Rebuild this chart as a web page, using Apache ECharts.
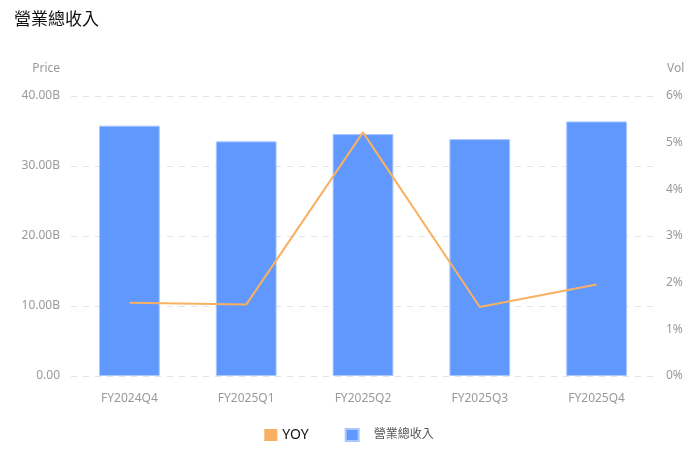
<!DOCTYPE html>
<html>
<head>
<meta charset="utf-8">
<script src="https://cdn.jsdelivr.net/npm/echarts@6/dist/echarts.min.js"></script>
<style>
	html,body{margin:0;padding:0;background:#fff;}
	#chart{width:698px;height:453px;}
</style>
</head>
<body>
<div id="chart"></div>
<script>
// 数据
let categories=['FY2024Q4','FY2025Q1','FY2025Q2','FY2025Q3','FY2025Q4'];
let revenue=[35.76,33.52,34.56,33.84,36.37]; // 单位 B
let yoy=[1.57,1.53,5.22,1.48,1.96]; // 单位 %
let priceTicks=[0,10,20,30,40];
let volTicks=[0,1,2,3,4,5,6];

const fontFamily='"Noto Sans","Noto Sans CJK TC",sans-serif';

function initChart(domid){
	let chartDom=document.getElementById(domid);
	if(chartDom==null) return;
	let chartInstance=echarts.getInstanceByDom(chartDom);
	if(chartInstance) return chartInstance;
	return echarts.init(chartDom);
}

let mychart=initChart('chart');

mychart.setOption({
	animation:false,
	textStyle:{fontFamily:fontFamily},
	title:{
		text:'營業總收入',
		left:9,
		top:7,
		textStyle:{fontSize:17,fontWeight:'normal',color:'#111',fontFamily:fontFamily}
	},
	grid:{left:71,right:43,top:96,bottom:77,containLabel:false},
	legend:{
		bottom:6,
		left:'center',
		itemWidth:13,
		itemHeight:12,
		itemGap:36,
		data:[
			{name:'YOY',icon:'rect',textStyle:{color:'#111',fontSize:14}},
			{name:'營業總收入',icon:'rect',textStyle:{color:'#555',fontSize:12,padding:[0,0,0,10]}}
		]
	},
	xAxis:{
		type:'category',
		data:categories,
		axisLine:{show:false},
		axisTick:{show:false},
		axisLabel:{color:'#999',fontSize:12,margin:17}
	},
	yAxis:[
		{
			type:'value',
			name:'Price',
			min:priceTicks[0],
			max:priceTicks[priceTicks.length-1],
			interval:10,
			nameTextStyle:{color:'#999',fontSize:12,align:'right',padding:[0,11,7,0]},
			nameGap:14,
			axisLine:{show:false},
			axisTick:{show:false},
			axisLabel:{
				color:'#999',fontSize:12,margin:11,
				formatter:function(v){return v==0?'0.00':v.toFixed(2)+'B';}
			},
			splitLine:{lineStyle:{color:'#e3e3ec',type:[6,6],width:1}}
		},
		{
			type:'value',
			name:'Vol',
			min:volTicks[0],
			max:volTicks[volTicks.length-1],
			interval:1,
			nameTextStyle:{color:'#999',fontSize:12,align:'left',padding:[0,0,7,12]},
			nameGap:14,
			axisLine:{show:false},
			axisTick:{show:false},
			axisLabel:{color:'#999',fontSize:12,margin:11,formatter:'{value}%'},
			splitLine:{show:false}
		}
	],
	series:[
		{
			name:'YOY',
			type:'line',
			yAxisIndex:1,
			data:yoy,
			showSymbol:false,
			symbol:'none',
			z:3,
			itemStyle:{color:'#f8b162'},
			lineStyle:{color:'#f8b162',width:2}
		},
		{
			name:'營業總收入',
			type:'bar',
			yAxisIndex:0,
			data:revenue,
			barWidth:'52%',
			itemStyle:{color:'#6098fe',borderColor:'#a8c6ff',borderWidth:1}
		}
	]
});
</script>
</body>
</html>
